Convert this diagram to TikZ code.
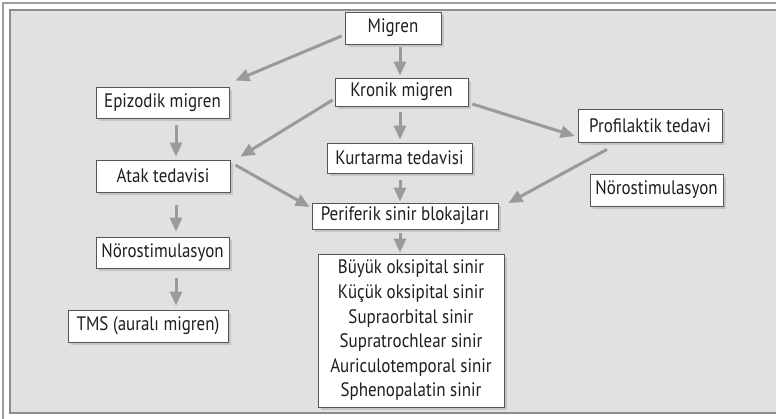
\documentclass[tikz,border=0pt]{standalone}
\usepackage{fontspec}
\setmainfont{PT Sans}[FakeStretch=0.87]
\usetikzlibrary{calc,shadows,arrows.meta}

\definecolor{panelfill}{HTML}{E0E1E3}
\definecolor{panelline}{HTML}{8D8D8D}
\definecolor{frameline}{HTML}{9C9C9C}
\definecolor{boxline}{HTML}{555555}
\definecolor{shadowc}{HTML}{C4C4C4}
\definecolor{arrowc}{HTML}{9A9A9A}
\definecolor{textc}{HTML}{1E1E1E}

\tikzset{
  box/.style={draw=boxline, line width=0.8pt, fill=white, inner sep=0pt,
    text=textc, font=\fontsize{19.5}{24.6}\selectfont,
    drop shadow={shadow xshift=3pt, shadow yshift=-3pt, fill=shadowc, opacity=1}},
  arr/.style={draw=arrowc, line width=3pt,
    -{Triangle[length=14pt,width=12pt]}},
}

\begin{document}
\begin{tikzpicture}[x=1pt,y=-1pt]
  \useasboundingbox (0,0) rectangle (776,419);

  % outer frame and grey panel
  \draw[frameline, line width=1.5pt] (3,419) -- (3,3) -- (776,3);
  \fill[panelfill] (10,10) rectangle (776,413);
  \draw[panelline, line width=1.8pt] (776,10) -- (10,10) -- (10,413) -- (776,413);

  % boxes
  \node[box, minimum width=96pt,  minimum height=32pt] (mig) at (393,28)    {Migren};
  \node[box, minimum width=133pt, minimum height=28pt] (kro) at (401.5,92)  {Kronik migren};
  \node[box, minimum width=133pt, minimum height=31pt] (epi) at (162.5,102.5) {Epizodik migren};
  \node[box, minimum width=144pt, minimum height=33pt] (pro) at (650,125.5) {Profilaktik tedavi};
  \node[box, minimum width=145pt, minimum height=30pt] (kur) at (399.5,158) {Kurtarma tedavisi};
  \node[box, minimum width=134pt, minimum height=32pt] (atk) at (163,176)   {Atak tedavisi};
  \node[box, minimum width=133pt, minimum height=32pt] (nr)  at (656.5,190) {Nörostimulasyon};
  \node[box, minimum width=186pt, minimum height=26pt] (per) at (405,216)   {Periferik sinir blokajları};
  \node[box, minimum width=133pt, minimum height=31pt] (nl)  at (162.5,252.5) {Nörostimulasyon};
  \node[box, minimum width=160pt, minimum height=32pt] (tms) at (148,326)   {TMS (auralı migren)};
  \node[box, minimum width=186pt, minimum height=153pt, align=center] (lst) at (411,330.5)
    {Büyük oksipital sinir\\Küçük oksipital sinir\\Supraorbital sinir\\Supratrochlear sinir\\Auriculotemporal sinir\\Sphenopalatin sinir};

  % central column
  \draw[arr] ($(mig.south)+(7,3)$) -- ($(kro.north)+(-1.5,-2)$);
  \draw[arr] ($(kro.south)+(-1.5,6)$) -- ($(kur.north)+(0.5,-3)$);
  \draw[arr] ($(kur.south)+(0.5,7)$) -- ($(per.north)+(-5,-1)$);
  \draw[arr] ($(per.south)+(-5,4)$) -- ($(lst.north)+(-11,-1)$);

  % left column
  \draw[arr] ($(epi.south)+(13.5,7)$) -- ($(atk.north)+(13,-3)$);
  \draw[arr] ($(atk.south)+(13,13)$) -- ($(nl.north)+(13.5,-5)$);
  \draw[arr] ($(nl.south)+(13.5,10)$) -- ($(tms.north)+(28,-4)$);

  % diagonal connectors
  \draw[arr] ($(mig.west)+(-3,8)$) -- ($(epi.north east)+(6,-6)$);
  \draw[arr] ($(kro.west)+(-2,8)$) -- ($(atk.north east)+(10,-3)$);
  \draw[arr] ($(atk.east)+(5,-11)$) -- ($(per.west)+(-2,-9)$);
  \draw[arr] ($(kro.east)+(4,12)$) -- ($(pro.west)+(-3,10.5)$);
  \draw[arr] ($(pro.south)+(-43,7)$) -- ($(per.east)+(10,-13)$);
\end{tikzpicture}
\end{document}
